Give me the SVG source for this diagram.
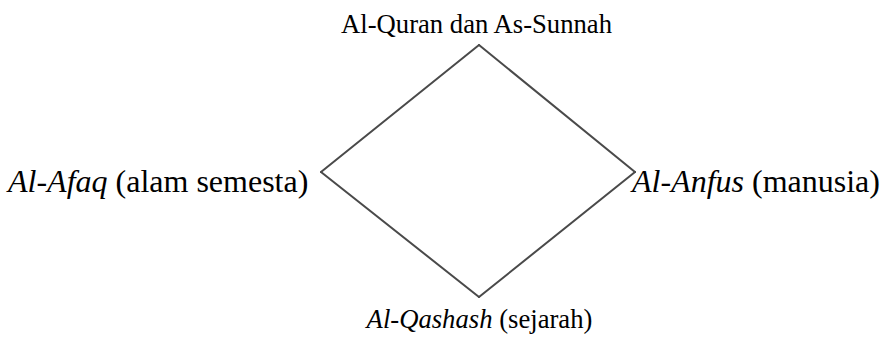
<svg xmlns="http://www.w3.org/2000/svg" width="887" height="344" viewBox="0 0 887 344">
<style>
.t{font-family:"Liberation Serif","Times New Roman",serif;fill:#000}
.s{font-size:26.67px}
.b{font-size:32px}
.c{stroke:#4a4a4a;stroke-width:2;fill:none;stroke-linecap:round}
</style>
<rect width="887" height="344" fill="#fff"/>
<g id="connectors">
<line class="c" x1="479" y1="45" x2="635" y2="172"/>
<line class="c" x1="635" y1="172" x2="479" y2="297"/>
<line class="c" x1="479" y1="297" x2="321" y2="172"/>
<line class="c" x1="321" y1="172" x2="479" y2="45"/>
</g>
<g id="node-top"><text class="t s" x="476.5" y="33" text-anchor="middle">Al-Quran dan As-Sunnah</text></g>
<g id="node-left"><text class="t b" x="8" y="192"><tspan font-style="italic">Al-Afaq</tspan> (alam semesta)</text></g>
<g id="node-right"><text class="t b" x="632" y="192"><tspan font-style="italic">Al-Anfus</tspan> (manusia)</text></g>
<g id="node-bottom"><text class="t s" x="479.5" y="328" text-anchor="middle"><tspan font-style="italic">Al-Qashash</tspan> (sejarah)</text></g>
</svg>
